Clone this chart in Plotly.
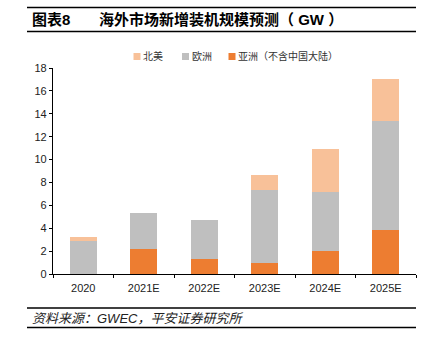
import plotly.graph_objects as go

categories = ["2020", "2021E", "2022E", "2023E", "2024E", "2025E"]
asia = [0.0, 2.2, 1.28, 0.96, 2.04, 3.81]
europe = [2.88, 3.12, 3.44, 6.35, 5.13, 9.53]
north_america = [0.38, 0.0, 0.0, 1.31, 3.78, 3.73]

series_names = ["亚洲（不含中国大陆）", "欧洲", "北美"]
series_colors = ["#ED7D31", "#BFBFBF", "#F8C199"]

W, H = 429, 352
L, R, T, B = 53, 13, 68, 78
pw, ph = W - L - R, H - T - B

def px(x):
    return (x - L) / pw

def py(y):
    return (H - B - y) / ph

FONT = "Liberation Sans, Arial, Noto Sans CJK SC"

fig = go.Figure()
for vals, name, col in zip([asia, europe, north_america], series_names, series_colors):
    fig.add_trace(go.Bar(x=categories, y=vals, name=name, marker_color=col,
                         marker_line_width=0))

fig.update_layout(
    width=W, height=H,
    margin=dict(l=L, r=R, t=T, b=B),
    barmode="stack",
    bargap=0.55,
    paper_bgcolor="white", plot_bgcolor="white",
    font=dict(family=FONT, size=11, color="#222"),
    showlegend=False,
    xaxis=dict(showline=True, linecolor="#000", linewidth=1.2, ticks="outside",
               tickson="boundaries", ticklen=3, tickcolor="#000", showgrid=False,
               ticklabelstandoff=4, tickfont=dict(size=11, color="#222")),
    yaxis=dict(range=[0, 18], dtick=2, showline=True, linecolor="#000", linewidth=1.2,
               ticks="outside", ticklen=3, tickcolor="#000", showgrid=False, zeroline=False,
               tickfont=dict(size=11, color="#222")),
)

shapes = []
for yy in (7.5, 31.5, 308, 327.5):
    shapes.append(dict(type="line", xref="paper", yref="paper", x0=px(27), x1=px(416),
                       y0=py(yy), y1=py(yy), line=dict(color="#000", width=1.3)))

# manual legend (order: 北美, 欧洲, 亚洲)
legend_items = [(2, 133.5), (1, 182), (0, 228.5)]
for idx, x0 in legend_items:
    shapes.append(dict(type="rect", xref="paper", yref="paper",
                       x0=px(x0), x1=px(x0 + 7), y0=py(53), y1=py(60),
                       fillcolor=series_colors[idx], line=dict(width=0)))
    fig.add_annotation(text=series_names[idx], xref="paper", yref="paper",
                       x=px(x0 + 7.5), y=py(56.5), xanchor="left", yanchor="middle",
                       showarrow=False, font=dict(size=10, color="#333", family=FONT))
fig.update_layout(shapes=shapes)

fig.add_annotation(text="<b>图表8</b>", xref="paper", yref="paper", x=px(30), y=py(19.5),
                   xanchor="left", yanchor="middle", showarrow=False,
                   font=dict(size=15, color="#000", family=FONT))
fig.add_annotation(text="<b>海外市场新增装机规模预测（ GW ）</b>", xref="paper", yref="paper",
                   x=px(97), y=py(19.5), xanchor="left", yanchor="middle", showarrow=False,
                   font=dict(size=15, color="#000", family=FONT))
fig.add_annotation(text="<i>资料来源：GWEC，平安证券研究所</i>", xref="paper", yref="paper",
                   x=px(30), y=py(318), xanchor="left", yanchor="middle", showarrow=False,
                   font=dict(size=13, color="#222", family=FONT))

fig.write_html("out.html")
